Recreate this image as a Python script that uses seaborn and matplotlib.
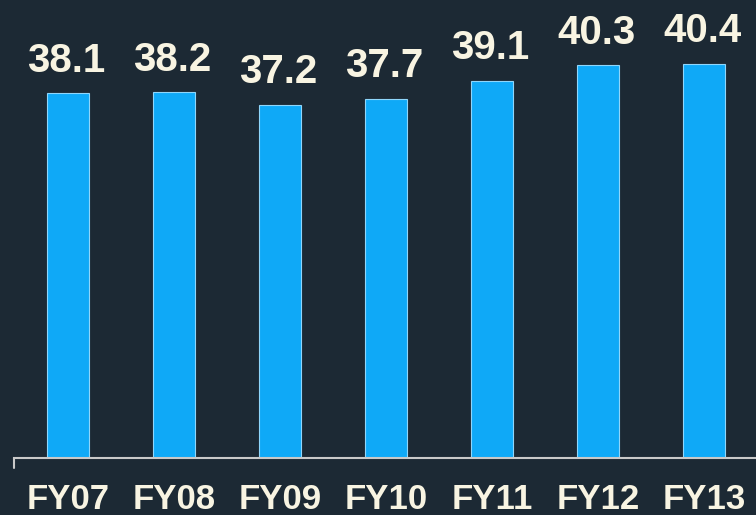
import matplotlib
matplotlib.use("Agg")
import matplotlib.pyplot as plt
import seaborn as sns
import pandas as pd

years = ['FY07', 'FY08', 'FY09', 'FY10', 'FY11', 'FY12', 'FY13']
values = [38.1, 38.2, 37.2, 37.7, 39.1, 40.3, 40.4]

bg = '#1c2934'
bar_color = '#0fa9f7'
text_color = '#f8f4e2'

df = pd.DataFrame({'year': years, 'value': values})

sns.set_style('white')
plt.rcParams['font.family'] = ['Liberation Sans', 'DejaVu Sans']

fig = plt.figure(figsize=(7.56, 5.15), dpi=100, facecolor=bg)
ax = fig.add_axes([14 / 756, 57 / 515, 742 / 756, 458 / 515])
ax.set_facecolor(bg)

sns.barplot(data=df, x='year', y='value', color=bar_color, width=0.4,
            saturation=1, edgecolor='#8fd6fb', linewidth=0.8, ax=ax)

# value labels above bars
for i, v in enumerate(values):
    ax.annotate(f'{v:.1f}', (i, v), xytext=(-1, 15.5), textcoords='offset points',
                ha='center', va='baseline', fontsize=29, fontweight='bold',
                color=text_color)

ax.set_xlim(-0.51, 6.49)
ax.set_ylim(9.6, 45.4)

for s in ['left', 'top', 'right']:
    ax.spines[s].set_visible(False)
ax.spines['bottom'].set_color('#c9c9c9')
ax.spines['bottom'].set_linewidth(1.5)
# small tick at the left end of the baseline
ax.plot([0, 0], [0, -0.022], transform=ax.transAxes, clip_on=False,
        color='#c9c9c9', lw=1.5)

ax.set_yticks([])
ax.tick_params(axis='x', length=0, pad=18)
for lbl in ax.get_xticklabels():
    lbl.set_fontsize(25)
    lbl.set_fontweight('bold')
    lbl.set_color(text_color)
ax.set_xlabel('')
ax.set_ylabel('')

fig.savefig('out.png', dpi=100, facecolor=bg)
